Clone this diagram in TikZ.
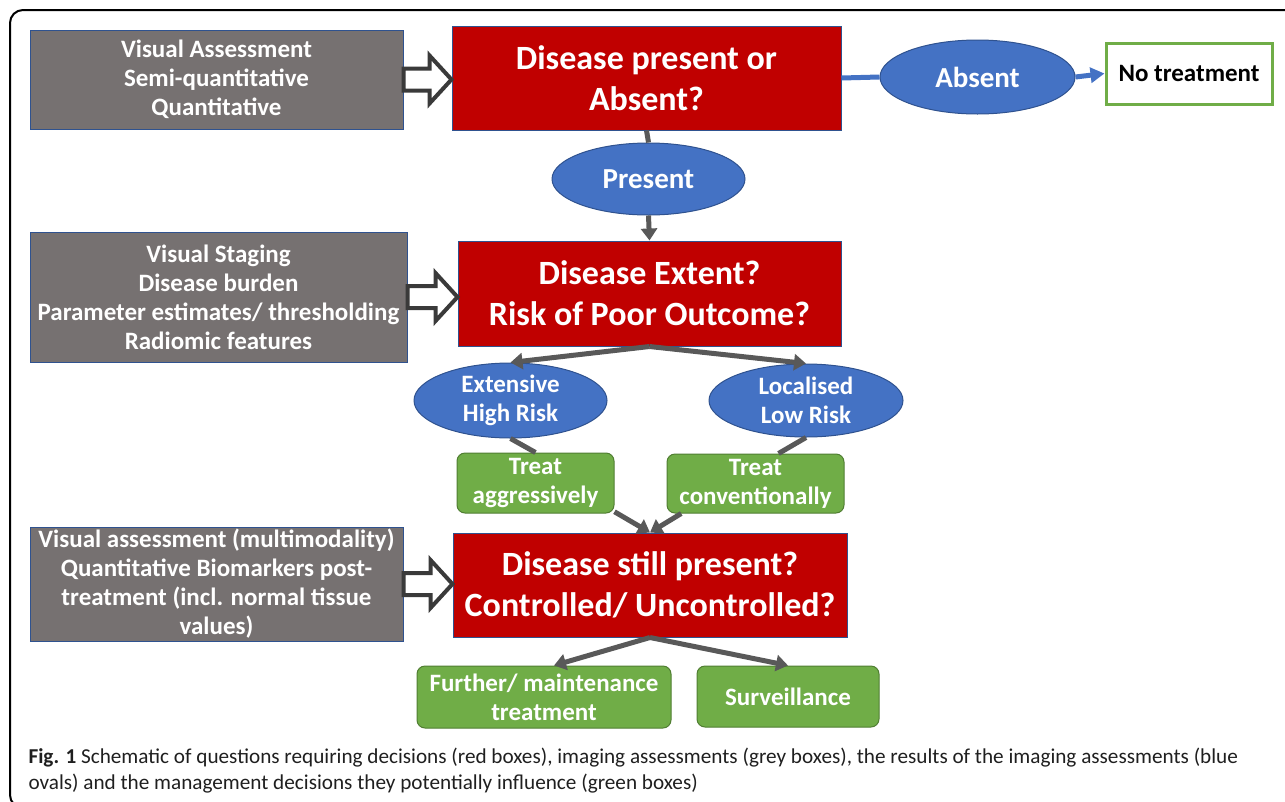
\documentclass[tikz,border=0pt]{standalone}
\usepackage{fontspec}
\setmainfont{Carlito}
\usetikzlibrary{calc,arrows.meta,shapes.geometric}
\definecolor{qred}{HTML}{C00000}
\definecolor{qgrey}{HTML}{767171}
\definecolor{qblue}{HTML}{4472C4}
\definecolor{qgreen}{HTML}{70AD47}
\definecolor{qedge}{HTML}{2F528F}
\definecolor{qgedge}{HTML}{507E32}
\definecolor{qlink}{HTML}{595959}
\definecolor{qhollow}{HTML}{3A3A3A}
\tikzset{
	assess/.style={draw=qedge, line width=1pt, fill=qgrey, text=white, inner sep=0pt, align=center, font=\fontsize{25}{29}\selectfont\bfseries},
	question/.style={draw=qedge, line width=1pt, fill=qred, text=white, inner sep=0pt, align=center, font=\fontsize{34}{41}\selectfont\bfseries},
	result/.style={ellipse, draw=qedge, line width=1pt, fill=qblue, text=white, inner sep=0pt, align=center, font=\fontsize{25}{29}\selectfont\bfseries},
	action/.style={rounded corners=8pt, draw=qgedge, line width=1pt, fill=qgreen, text=white, inner sep=0pt, align=center, font=\fontsize{25}{29}\selectfont\bfseries},
	link/.style={draw=qlink, line width=5pt},
	linkarrow/.style={link, -{Triangle[length=12pt,width=16pt]}},
	blueline/.style={draw=qblue, line width=5pt},
	hollow/.style={draw=qhollow, line width=4pt, fill=white, line join=miter}
}
\def\hollowarrow(#1)(#2){\draw[hollow] ($(#1.east)+(0,-11)$) -- ($(#2.west|-#1.east)+(-22,-11)$) -- ($(#2.west|-#1.east)+(-22,-24)$) -- (#2.west|-#1.east) -- ($(#2.west|-#1.east)+(-22,24)$) -- ($(#2.west|-#1.east)+(-22,11)$) -- ($(#1.east)+(0,11)$) -- cycle;}

\begin{document}
\begin{tikzpicture}[x=1pt,y=-1pt]
			%%%%% START %%%%%
			\useasboundingbox (0,0) rectangle (1285,801);
			
			\draw[line width=2pt, rounded corners=13pt] (1295,10) -- (10,10) -- (10,808) -- (1295,808);
			
			% row 1
			\node[assess, minimum width=373pt, minimum height=99pt] (visA) at (216.5,79.5) {Visual Assessment\\Semi-quantitative\\Quantitative};
			\node[question, minimum width=389pt, minimum height=104pt] (qA) at (646.5,78) {Disease present or\\Absent?};
			\node[result, minimum width=195pt, minimum height=74pt, font=\fontsize{29}{30}\selectfont\bfseries] (absent) at (977.5,77) {Absent};
			\node[draw=qgreen, line width=3pt, fill=white, minimum width=166pt, minimum height=61pt, font=\fontsize{25}{29}\selectfont\bfseries] (notreat) at (1189,73.5) {No treatment};
			\node[result, minimum width=193pt, minimum height=72pt, font=\fontsize{29}{30}\selectfont\bfseries] (present) at (648.5,179) {Present};
			
			% row 2
			\node[assess, minimum width=377pt, minimum height=130pt] (visB) at (218.5,297) {Visual Staging\\Disease burden\\Parameter estimates/ thresholding\\Radiomic features};
			\node[question, minimum width=383pt, minimum height=105pt] (qB) at (649.5,293.5) {Disease Extent?\\Risk of Poor Outcome?};
			\node[result, minimum width=193pt, minimum height=75pt] (extensive) at (510.5,400.5) {Extensive\\High Risk};
			\node[result, minimum width=194pt, minimum height=73pt] (localised) at (806,400.5) {Localised\\Low Risk};
			\node[action, minimum width=157pt, minimum height=60pt] (aggr) at (535.5,483) {Treat\\aggressively};
			\node[action, minimum width=177pt, minimum height=59pt] (conv) at (755.5,483.5) {Treat\\conventionally};
			
			% row 3
			\node[assess, minimum width=373pt, minimum height=114pt] (visC) at (216.5,584) {Visual assessment (multimodality)\\Quantitative Biomarkers post-\\treatment (incl. normal tissue\\values)};
			\node[question, minimum width=394pt, minimum height=104pt] (qC) at (650,585) {Disease still present?\\Controlled/ Uncontrolled?};
			\node[action, minimum width=254pt, minimum height=62pt] (further) at (544,697) {Further/ maintenance\\treatment};
			\node[action, minimum width=182pt, minimum height=61pt] (surv) at (788,696.5) {Surveillance};
			
			\hollowarrow(visA)(qA)
			\hollowarrow(visB)(qB)
			\hollowarrow(visC)(qC)
			
			\draw[blueline] (qA.east) -- (absent.west);
			\draw[blueline, -{Triangle[length=14pt,width=15pt]}] (absent.east) -- (notreat.west);
			
			\draw[link] (qA.south) -- (present.north);
			\draw[linkarrow] (present.south) -- (qB.north);
			\draw[linkarrow] (qB.south) -- (extensive.north);
			\draw[linkarrow] (qB.south) -- (localised.north);
			\draw[link] (extensive.south) -- (aggr.north);
			\draw[link] (localised.south) -- ($(conv.north)+(23,0)$);
			\draw[linkarrow] (aggr.-20) -- (qC.north);
			\draw[linkarrow] (conv.202) -- (qC.north);
			\draw[linkarrow] (qC.south) -- ($(further.north)+(10,0)$);
			\draw[linkarrow] (qC.south) -- (surv.north);
			
			\node[anchor=west, align=left, text=black!88, font=\fontsize{21.2}{26}\selectfont] (caption) at (25,771) {\textbf{Fig. 1} Schematic of questions requiring decisions (red boxes), imaging assessments (grey boxes), the results of the imaging assessments (blue\\ovals) and the management decisions they potentially influence (green boxes)};
			%%%%% END %%%%%
\end{tikzpicture}
\end{document}
